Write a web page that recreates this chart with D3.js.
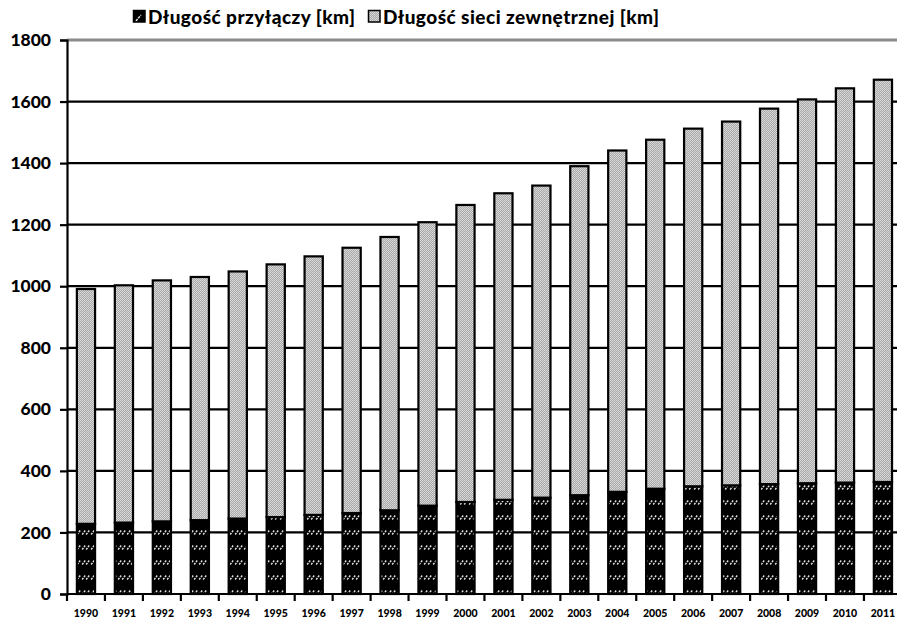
<!DOCTYPE html>
<html>
<head>
<meta charset="utf-8">
<script src="https://cdn.jsdelivr.net/npm/d3@7"></script>
<style>
  html, body { margin: 0; padding: 0; background: #fff; }
  svg { display: block; }
  text { font-family: Lato, "Open Sans", "DejaVu Sans", sans-serif; font-weight: 900; fill: #000; }
</style>
</head>
<body>
<svg id="chart" width="897" height="620"></svg>
<script>
// Years on the category axis
const years = ["1990","1991","1992","1993","1994","1995","1996","1997","1998","1999","2000",
               "2001","2002","2003","2004","2005","2006","2007","2008","2009","2010","2011"];
// Length of service connections [km]
const przylacza = [228, 232, 236, 240, 245, 250, 257, 263, 272, 287, 299,
                   306, 313, 321, 332, 342, 350, 353, 357, 360, 362, 364];
// Length of the external network [km] (stacked on top of connections)
const siecZewnetrzna = [763, 771, 783, 790, 803, 821, 840, 862, 888, 921, 965,
                        996, 1014, 1069, 1109, 1134, 1162, 1182, 1220, 1247, 1281, 1307];
const seriesNames = ["Długość przyłączy [km]", "Długość sieci zewnętrznej [km]"];
const yTicks = [0, 200, 400, 600, 800, 1000, 1200, 1400, 1600, 1800];

const svg = d3.select("#chart");

// Fill patterns
const defs = svg.append("defs");
const hatch = defs.append("pattern")
  .attr("id", "hatchDark").attr("patternUnits", "userSpaceOnUse")
  .attr("width", 9).attr("height", 15);
hatch.append("rect").attr("width", 9).attr("height", 15).attr("fill", "#000");
hatch.append("path").attr("d", "M1.2,9.5 L4.2,5.5 M5.2,9.5 L8.2,5.5")
  .attr("stroke", "#e2e2e2").attr("stroke-width", 1.5).attr("stroke-dasharray", "2,1");

const hatchSwatch = defs.append("pattern")
  .attr("id", "hatchSwatch").attr("patternUnits", "userSpaceOnUse")
  .attr("width", 12).attr("height", 12);
hatchSwatch.append("rect").attr("width", 12).attr("height", 12).attr("fill", "#000");
hatchSwatch.append("path").attr("d", "M3,9 L8,3")
  .attr("stroke", "#e8e8e8").attr("stroke-width", 1.5).attr("stroke-dasharray", "2.5,1");

const dots = defs.append("pattern")
  .attr("id", "dotsGray").attr("patternUnits", "userSpaceOnUse")
  .attr("width", 2).attr("height", 2);
dots.append("rect").attr("width", 2).attr("height", 2).attr("fill", "#a8a8a8");
dots.append("rect").attr("x", 0).attr("y", 0).attr("width", 1).attr("height", 1).attr("fill", "#dcdcdc");
dots.append("rect").attr("x", 1).attr("y", 1).attr("width", 1).attr("height", 1).attr("fill", "#d4d4d4");

const plotLeft = 67, plotTop = 40, plotBottom = 594;
const x = d3.scaleBand().domain(years)
  .range([plotLeft, plotLeft + years.length * 37.95])
  .paddingInner(0.52).paddingOuter(0.26);
const y = d3.scaleLinear().domain([0, 1800]).range([plotBottom, plotTop]);

// Horizontal gridlines
svg.append("g").selectAll("line").data(yTicks.filter(v => v > 0)).join("line")
  .attr("x1", plotLeft).attr("x2", 897)
  .attr("y1", d => y(d)).attr("y2", d => y(d))
  .attr("stroke", d => d === 1800 ? "#8c8c8c" : "#000")
  .attr("stroke-width", d => d === 1800 ? 3 : 2.2);

// Stacked bars
const stackData = years.map((yr, i) => ({ year: yr, a: przylacza[i], b: siecZewnetrzna[i] }));
const stack = d3.stack().keys(["a", "b"])(stackData);
const fills = ["url(#hatchDark)", "url(#dotsGray)"];
svg.append("g").selectAll("g").data(stack).join("g")
  .attr("fill", (d, i) => fills[i])
  .selectAll("rect").data(d => d).join("rect")
  .attr("x", d => x(d.data.year))
  .attr("width", x.bandwidth())
  .attr("y", d => y(d[1]))
  .attr("height", d => y(d[0]) - y(d[1]))
  .attr("stroke", "#000").attr("stroke-width", 2.2);

// Y axis
const yAxis = svg.append("g").attr("transform", `translate(${plotLeft},0)`)
  .call(d3.axisLeft(y).tickValues(yTicks).tickSize(7).tickPadding(9).tickFormat(d3.format("d")));
yAxis.select(".domain").attr("stroke", "#000").attr("stroke-width", 2.2);
yAxis.selectAll(".tick line").attr("stroke", "#000").attr("stroke-width", 2.2);
yAxis.selectAll(".tick text").style("font-size", "17.5px").attr("fill", "#000")
  .style("font-family", "Lato, \"Open Sans\", sans-serif").style("font-weight", 900);

// X axis line with ticks at category boundaries
svg.append("line").attr("x1", plotLeft).attr("x2", 897).attr("y1", plotBottom).attr("y2", plotBottom)
  .attr("stroke", "#000").attr("stroke-width", 2.2);
const boundaries = d3.range(years.length + 1).map(i => plotLeft + i * x.step());
svg.append("g").selectAll("line").data(boundaries).join("line")
  .attr("x1", d => d).attr("x2", d => d)
  .attr("y1", plotBottom).attr("y2", plotBottom + 7)
  .attr("stroke", "#000").attr("stroke-width", 2.2);
svg.append("g").selectAll("text").data(years).join("text")
  .attr("x", d => x(d) + x.bandwidth() / 2)
  .attr("y", 617)
  .attr("text-anchor", "middle")
  .style("font-size", "10.5px")
  .text(d => d);

// Legend
const legend = [
  { name: seriesNames[0], fill: "url(#hatchSwatch)", x: 133 },
  { name: seriesNames[1], fill: fills[1], x: 368 }
];
const lg = svg.append("g").selectAll("g").data(legend).join("g")
  .attr("transform", d => `translate(${d.x},0)`);
lg.append("rect").attr("x", 0.5).attr("y", 10.5).attr("width", 11.5).attr("height", 11.5)
  .attr("fill", d => d.fill).attr("stroke", "#000").attr("stroke-width", 1.5);
lg.append("text").attr("x", 15).attr("y", 24)
  .style("font-size", "19px")
  .style("letter-spacing", "0.45px")
  .text(d => d.name);
</script>
</body>
</html>
